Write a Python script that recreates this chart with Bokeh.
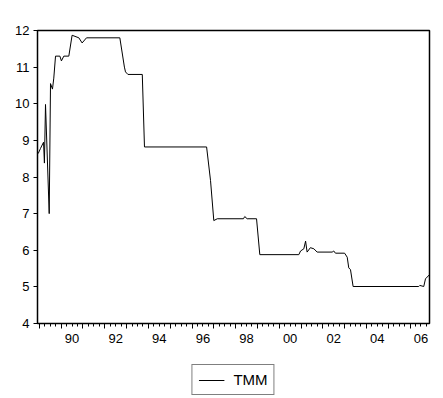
from bokeh.plotting import figure
from bokeh.layouts import column
from bokeh.models import FixedTicker, LinearAxis, Range1d, Legend, LegendItem
from bokeh.embed import file_html
from bokeh.resources import INLINE

# Tunisian money market rate (TMM), fractional years
years = [1988.945, 1989.05, 1989.19, 1989.23, 1989.28, 1989.45, 1989.51, 1989.60,
         1989.66, 1989.74, 1989.94, 1990.01, 1990.12, 1990.35, 1990.50, 1990.81,
         1990.96, 1991.16, 1992.69, 1992.90, 1992.95, 1993.06, 1993.72, 1993.82,
         1996.67, 1996.85, 1997.00, 1997.16, 1998.36, 1998.42, 1998.53, 1998.96,
         1999.11, 2000.90, 2000.98, 2001.13, 2001.21, 2001.28, 2001.43, 2001.59,
         2001.74, 2002.43, 2002.50, 2002.58, 2003.00, 2003.12, 2003.19, 2003.27,
         2003.39, 2006.40, 2006.45, 2006.63, 2006.71, 2006.89]
tmm = [8.64, 8.78, 8.95, 8.38, 9.98, 7.00, 10.55, 10.40,
       10.70, 11.30, 11.30, 11.17, 11.30, 11.30, 11.87, 11.80,
       11.66, 11.80, 11.80, 11.00, 10.87, 10.80, 10.80, 8.82,
       8.82, 7.90, 6.81, 6.86, 6.86, 6.92, 6.86, 6.86,
       5.88, 5.88, 5.98, 6.04, 6.25, 5.95, 6.07, 6.04,
       5.95, 5.95, 5.98, 5.92, 5.92, 5.81, 5.52, 5.47,
       5.01, 5.01, 5.04, 5.01, 5.22, 5.33]
series_name = "TMM"

year_ticks = list(range(1989, 2007))
label_years = list(range(1990, 2007, 2))
y_ticks = list(range(4, 13))

FONT = "Liberation Sans"

p = figure(width=435, height=352,
           x_range=Range1d(1988.913, 2006.894), y_range=Range1d(4, 12),
           x_axis_location=None, output_backend="svg", toolbar_location=None,
           min_border_left=37, min_border_top=30, min_border_right=6,
           min_border_bottom=29)
p.grid.visible = False
p.outline_line_color = "black"
p.outline_line_width = 1.5
p.background_fill_color = "white"
p.border_fill_color = "white"

# y axis
ya = p.yaxis[0]
ya.ticker = FixedTicker(ticks=y_ticks, minor_ticks=[])
ya.major_tick_out = 4
ya.major_tick_in = 0
ya.minor_tick_line_color = None
ya.major_label_standoff = 4
ya.major_label_text_font = FONT
ya.major_label_text_font_size = "13px"
ya.major_label_text_color = "black"
ya.axis_line_color = "black"

# x axis: year ticks and quarterly minor ticks
quarters = [y + q / 4 for y in range(1988, 2007) for q in range(4)]
ax_ticks = LinearAxis(ticker=FixedTicker(ticks=year_ticks, minor_ticks=quarters),
                      major_tick_out=5, major_tick_in=0,
                      minor_tick_out=3, minor_tick_in=0,
                      major_label_text_font_size="0px", major_label_standoff=0,
                      major_label_overrides={t: "" for t in year_ticks},
                      axis_line_color="black")
p.add_layout(ax_ticks, "below")

# x labels centred on each even year
mid = [y + 0.5 for y in label_years]
ax_labels = LinearAxis(ticker=FixedTicker(ticks=mid, minor_ticks=[]),
                       axis_line_color=None, major_tick_line_color=None,
                       minor_tick_line_color=None,
                       major_tick_out=0, major_tick_in=0,
                       major_label_standoff=5,
                       major_label_text_font=FONT,
                       major_label_text_font_size="13px",
                       major_label_text_color="black",
                       major_label_overrides={m: "%02d" % (y % 100) for m, y in zip(mid, label_years)})
p.add_layout(ax_labels, "below")

p.line(years, tmm, line_color="black", line_width=1)

# legend strip below the chart (series drawn out of view; only its key shows)
p2 = figure(width=435, height=43, x_range=Range1d(0, 1), y_range=Range1d(0, 1),
            x_axis_location=None, y_axis_location=None,
            output_backend="svg", toolbar_location=None,
            min_border_left=26, min_border_right=0, min_border_top=0, min_border_bottom=0)
p2.grid.visible = False
p2.outline_line_color = None
p2.background_fill_color = "white"
p2.border_fill_color = "white"
key = p2.line(years, tmm, line_color="black", line_width=1)
legend = Legend(items=[LegendItem(label=series_name, renderers=[key])],
                location="top_center", orientation="horizontal",
                border_line_color="black", border_line_width=1,
                padding=6, margin=12, spacing=0,
                glyph_width=26, glyph_height=16, label_standoff=9,
                label_height=16,
                label_text_font=FONT, label_text_font_size="15px",
                label_text_color="black")
p2.add_layout(legend, "center")

layout = column(p, p2, spacing=0)
open("out.html", "w").write(file_html(layout, INLINE))
